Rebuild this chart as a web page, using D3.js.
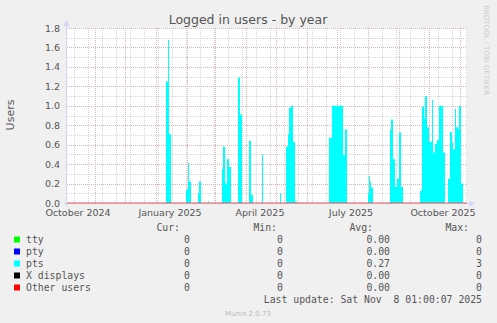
<!DOCTYPE html>
<html>
<head>
<meta charset="utf-8">
<script src="https://cdn.jsdelivr.net/npm/d3@7"></script>
<style>
  body { margin: 0; background: #f0f0f0; }
  svg { display: block; }
</style>
</head>
<body>
<div id="chart"></div>
<script>
// graph time range (munin "by year" shows the last 400 days)
var startDate = "2024-10-04";
var endDate = "2025-11-08";

// pts logins, daily averages (each value holds until the next date)
var ptsDates = [
  "2024-10-04", "2025-01-11", "2025-01-13", "2025-01-14", "2025-01-16",
  "2025-01-31", "2025-02-02", "2025-02-03", "2025-02-05",
  "2025-02-12", "2025-02-13", "2025-02-15", "2025-02-22", "2025-02-23",
  "2025-03-08", "2025-03-09", "2025-03-11", "2025-03-13", "2025-03-15", "2025-03-17",
  "2025-03-24", "2025-03-26", "2025-03-28",
  "2025-04-04", "2025-04-06", "2025-04-08", "2025-04-17", "2025-04-18",
  "2025-05-05", "2025-05-06",
  "2025-05-11", "2025-05-13", "2025-05-14", "2025-05-16", "2025-05-18", "2025-05-20", "2025-05-22",
  "2025-06-23", "2025-06-26", "2025-07-07", "2025-07-09", "2025-07-11",
  "2025-08-01", "2025-08-02", "2025-08-03", "2025-08-04", "2025-08-06",
  "2025-08-23", "2025-08-24", "2025-08-26", "2025-08-28", "2025-08-30", "2025-09-01", "2025-09-03", "2025-09-05",
  "2025-09-22", "2025-09-24", "2025-09-26", "2025-09-27", "2025-09-29", "2025-10-01",
  "2025-10-04", "2025-10-05", "2025-10-07", "2025-10-09", "2025-10-11", "2025-10-15", "2025-10-17",
  "2025-10-20", "2025-10-22", "2025-10-24", "2025-10-25", "2025-10-27", "2025-10-28",
  "2025-10-30", "2025-10-31", "2025-11-02", "2025-11-04"
];
var ptsValues = [
  0, 1.25, 1.68, 0.71, 0,
  0.14, 0.41, 0.22, 0,
  0.10, 0.22, 0, 0.015, 0,
  0.35, 0.58, 0.20, 0.45, 0.37, 0,
  1.29, 0.91, 0,
  0.64, 0.085, 0, 0.50, 0,
  0.10, 0,
  0.58, 0.71, 0.98, 1.00, 0.63, 0.015, 0,
  0.67, 1.00, 0.49, 0.755, 0,
  0.10, 0.28, 0.22, 0.16, 0,
  0.755, 0.86, 0.45, 0.165, 0.25, 0.726, 0.165, 0,
  0.127, 0.99, 0.87, 1.10, 0.78, 0.63,
  1.06, 0.52, 0.61, 0.65, 1.00, 0.52, 0,
  0.25, 0.73, 0.62, 0.55, 0.97, 0.78,
  0.755, 1.00, 0.20, 0
];

// axis labels
var yTicks = [0, 0.2, 0.4, 0.6, 0.8, 1.0, 1.2, 1.4, 1.6, 1.8];
var xLabelDates = ["2024-10-15", "2025-01-15", "2025-04-15", "2025-07-15", "2025-10-15"];
var xLabels = ["October 2024", "January 2025", "April 2025", "July 2025", "October 2025"];

// legend table
var legendNames = ["tty", "pty", "pts", "X displays", "Other users"];
var legendColors = ["#00ff00", "#0000ff", "#00ffff", "#000000", "#ff0000"];
var legendCur = ["0", "0", "0", "0", "0"];
var legendMin = ["0", "0", "0", "0", "0"];
var legendAvg = ["0.00", "0.00", "0.27", "0.00", "0.00"];
var legendMax = ["0", "0", "3", "0", "0"];

var W = 497, H = 323;
// plot box (note: "top" is reserved by window, so prefixed names)
var pLeft = 67, pRight = 467, pTop = 28, pBottom = 203;
var parse = d3.timeParse("%Y-%m-%d");
var sans = "'DejaVu Sans', sans-serif";
var mono = "'DejaVu Sans Mono', monospace";

var svg = d3.select("#chart").append("svg")
  .attr("width", W).attr("height", H);

svg.append("rect").attr("width", W).attr("height", H).attr("fill", "#f0f0f0");

// scales
var x = d3.scaleTime().domain([parse(startDate), parse(endDate)]).range([pLeft, pRight]);
var y = d3.scaleLinear().domain([0, 1.8]).range([pBottom, pTop]);

// canvas
svg.append("rect")
  .attr("x", pLeft).attr("y", pTop)
  .attr("width", pRight - pLeft).attr("height", pBottom - pTop)
  .attr("fill", "#ffffff");

// grid (under the data): minor lines first, then major lines
var grid = svg.append("g").attr("fill", "none").attr("stroke-dasharray", "1,1");

var minorY = d3.range(1, 18, 2).map(function(i) { return i / 10; });
grid.selectAll(".minorY").data(minorY).enter().append("line")
  .attr("x1", pLeft).attr("x2", pRight)
  .attr("y1", function(d) { return Math.round(y(d)) + 0.5; })
  .attr("y2", function(d) { return Math.round(y(d)) + 0.5; })
  .attr("stroke", "#d6d6d6");

var minorX = d3.timeDay.range(parse("2024-10-11"), parse(endDate), 14);
grid.selectAll(".minorX").data(minorX).enter().append("line")
  .attr("x1", function(d) { return Math.round(x(d)) + 0.5; })
  .attr("x2", function(d) { return Math.round(x(d)) + 0.5; })
  .attr("y1", pTop).attr("y2", pBottom)
  .attr("stroke", "#d6d6d6");

grid.selectAll(".majorY").data(yTicks.slice(1)).enter().append("line")
  .attr("x1", pLeft).attr("x2", pRight)
  .attr("y1", function(d) { return Math.round(y(d)) + 0.5; })
  .attr("y2", function(d) { return Math.round(y(d)) + 0.5; })
  .attr("stroke", "#e8b0b0");

var majorX = d3.timeMonth.range(parse("2024-10-05"), parse(endDate));
grid.selectAll(".majorX").data(majorX).enter().append("line")
  .attr("x1", function(d) { return Math.round(x(d)) + 0.5; })
  .attr("x2", function(d) { return Math.round(x(d)) + 0.5; })
  .attr("y1", pTop).attr("y2", pBottom)
  .attr("stroke", "#e8b0b0");

// data area (pts, stacked on zero tty/pty)
var pts = ptsDates.map(function(d, i) { return {date: parse(d), value: ptsValues[i]}; });
pts.push({date: parse(endDate), value: 0});

var area = d3.area()
  .curve(d3.curveStepAfter)
  .x(function(d) { return x(d.date); })
  .y0(y(0))
  .y1(function(d) { return y(d.value); });

svg.append("path").datum(pts)
  .attr("d", area)
  .attr("fill", "#00ffff");

// axes with arrows
var axisColor = "#cfd6f8";
svg.append("line")
  .attr("x1", pLeft - 0.5).attr("x2", pLeft - 0.5)
  .attr("y1", pBottom + 3).attr("y2", pTop - 4)
  .attr("stroke", axisColor);
svg.append("line")
  .attr("x1", pLeft - 3).attr("x2", pRight + 4)
  .attr("y1", pBottom + 0.5).attr("y2", pBottom + 0.5)
  .attr("stroke", axisColor);
svg.append("path")
  .attr("d", "M" + (pLeft - 3.5) + "," + (pTop - 2) + "L" + (pLeft - 0.5) + "," + (pTop - 8) + "L" + (pLeft + 2.5) + "," + (pTop - 2) + "Z")
  .attr("fill", axisColor);
svg.append("path")
  .attr("d", "M" + (pRight + 2) + "," + (pBottom - 2.5) + "L" + (pRight + 8) + "," + (pBottom + 0.5) + "L" + (pRight + 2) + "," + (pBottom + 3.5) + "Z")
  .attr("fill", axisColor);

// "Other users" line sits on zero
svg.append("line")
  .attr("x1", pLeft).attr("x2", pRight)
  .attr("y1", y(0)).attr("y2", y(0))
  .attr("stroke", "#ee5555").attr("stroke-width", 1);

// y tick labels
svg.selectAll(".ylab").data(yTicks).enter().append("text")
  .attr("x", 60)
  .attr("y", function(d) { return y(d) + 3.5; })
  .attr("text-anchor", "end")
  .attr("font-family", sans).attr("font-size", "9.5px")
  .attr("fill", "#555")
  .text(function(d) { return d.toFixed(1); });

// x labels
svg.selectAll(".xlab").data(xLabelDates).enter().append("text")
  .attr("x", function(d) { return x(parse(d)); })
  .attr("y", 216)
  .attr("text-anchor", "middle")
  .attr("font-family", sans).attr("font-size", "9.5px")
  .attr("fill", "#555")
  .text(function(d, i) { return xLabels[i]; });

// title and axis title
svg.append("text")
  .attr("x", 248).attr("y", 24)
  .attr("text-anchor", "middle")
  .attr("font-family", sans).attr("font-size", "12.5px")
  .attr("fill", "#555")
  .text("Logged in users - by year");

svg.append("text")
  .attr("transform", "translate(14,115) rotate(-90)")
  .attr("text-anchor", "middle")
  .attr("font-family", sans).attr("font-size", "11px")
  .attr("fill", "#555")
  .text("Users");

svg.append("text")
  .attr("transform", "translate(484,5) rotate(90)")
  .attr("font-family", sans).attr("font-size", "7px")
  .attr("fill", "#cccccc")
  .text("RRDTOOL / TOBI OETIKER");

// legend
var legend = svg.append("g").attr("font-family", mono).attr("font-size", "9.8px").attr("fill", "#555");

var headers = [["Cur:", 180], ["Min:", 277], ["Avg:", 373], ["Max:", 469]];
legend.selectAll(".hdr").data(headers).enter().append("text")
  .attr("x", function(d) { return d[1]; })
  .attr("y", 231)
  .attr("text-anchor", "end")
  .text(function(d) { return d[0]; });

var rows = legend.selectAll(".row").data(legendNames).enter().append("g")
  .attr("transform", function(d, i) { return "translate(0," + (243 + i * 12) + ")"; });

rows.append("rect")
  .attr("x", 14).attr("y", -6.5)
  .attr("width", 6).attr("height", 6)
  .attr("fill", function(d, i) { return legendColors[i]; });

rows.append("text").attr("x", 26).text(function(d) { return d; });

var cols = [[legendCur, 190], [legendMin, 283], [legendAvg, 390], [legendMax, 482]];
cols.forEach(function(c) {
  rows.append("text")
    .attr("x", c[1])
    .attr("text-anchor", "end")
    .text(function(d, i) { return c[0][i]; });
});

legend.append("text")
  .attr("x", 482).attr("y", 303)
  .attr("text-anchor", "end")
  .style("white-space", "pre")
  .text("Last update: Sat Nov  8 01:00:07 2025");

svg.append("text")
  .attr("x", 248).attr("y", 316)
  .attr("text-anchor", "middle")
  .attr("font-family", sans).attr("font-size", "7px")
  .attr("fill", "#bbbbbb")
  .text("Munin 2.0.73");
</script>
</body>
</html>
